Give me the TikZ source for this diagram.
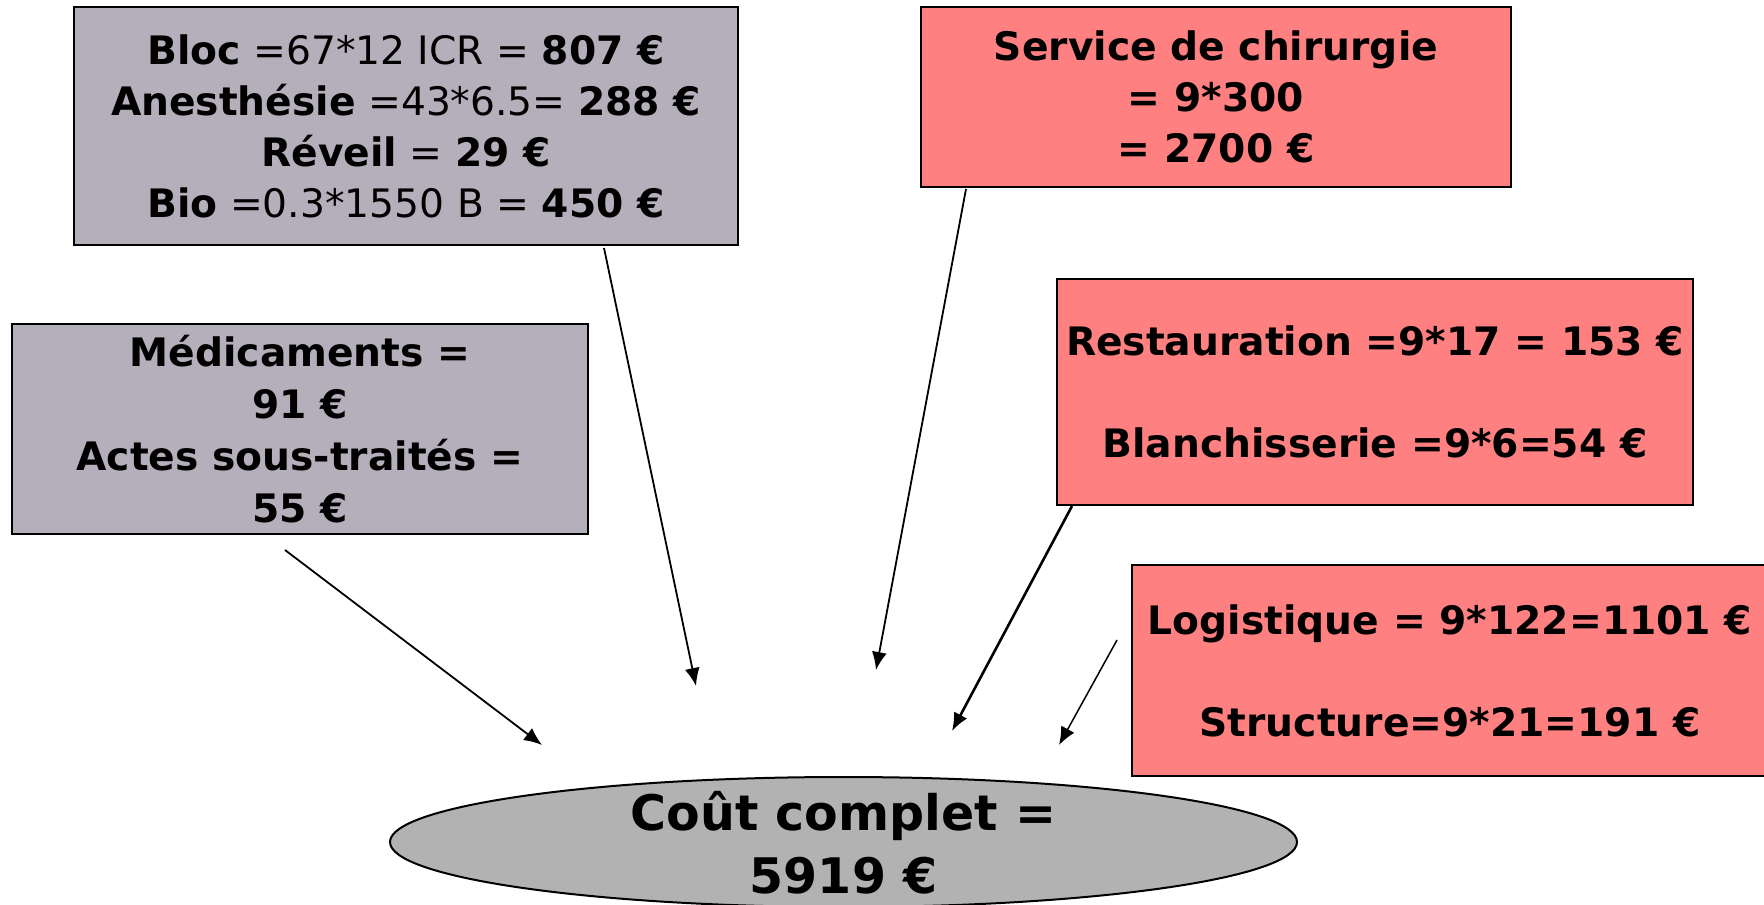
\documentclass[tikz,border=0pt]{standalone}
\usepackage{fontspec}
\setmainfont{DejaVu Sans}
\usetikzlibrary{positioning,arrows.meta,shapes.geometric,calc}
\definecolor{boxgray}{RGB}{180,175,187}
\definecolor{boxred}{RGB}{255,128,128}
\definecolor{ellgray}{RGB}{178,178,178}

\begin{document}
\begin{tikzpicture}[x=0.5pt,y=-0.5pt]
 \tikzset{arrow/.style={-{Latex[length=9pt,width=7.5pt]},line width=0.9pt},
   post/.style={draw=black,line width=1pt,align=center,inner sep=0pt,
     font=\fontsize{19.6}{25.5}\selectfont},
   grey/.style={post,fill=boxgray},
   rouge/.style={post,fill=boxred}}
 \clip (0,0) rectangle (1764,904);

 \node[grey,minimum width=332pt,minimum height=119pt] (bloc) at (406,126)
   {\textbf{Bloc} =67*12 ICR = \textbf{807 €}\\
    \textbf{Anesthésie} =43*6.5= \textbf{288 €}\\
    \textbf{Réveil} = \textbf{29 €}\\
    \textbf{Bio} =0.3*1550 B = \textbf{450 €}};
 \node[grey,font=\fontsize{19.6}{26}\selectfont\bfseries,minimum width=288pt,minimum height=105pt] (medic) at (300,429)
   {Médicaments =\\91 €\\Actes sous-traités =\\55 €};
 \node[rouge,font=\fontsize{19.6}{25.5}\selectfont\bfseries,minimum width=295pt,minimum height=90pt] (chir) at (1216,97)
   {Service de chirurgie\\= 9*300\\= 2700 €};
 \node[rouge,font=\fontsize{19.6}{25.5}\selectfont\bfseries,minimum width=318pt,minimum height=113pt] (resto) at (1375,392)
   {Restauration =9*17 = 153 €\\[25.5pt]Blanchisserie =9*6=54 €};
 \node[rouge,font=\fontsize{19.6}{25.5}\selectfont\bfseries,minimum width=318pt,minimum height=105.5pt] (logis) at (1450,670.5)
   {Logistique = 9*122=1101 €\\[25.5pt]Structure=9*21=191 €};

 \node[ellipse,draw=black,line width=1pt,fill=ellgray,minimum width=453.5pt,minimum height=65pt] (total) at (843.5,842) {};
 \node[align=center,font=\fontsize{24.5}{31.5}\selectfont\bfseries] (totaltxt) at (843.5,843) {Coût complet =\\5919 €};

 % free ends of the arrows, above the total
 \coordinate (tip1) at (542,745);
 \coordinate (tip2) at (696,686);
 \coordinate (tip3) at (876,670);
 \coordinate (tip4) at (952,731);
 \coordinate (tip5) at (1059,745);

 \draw[arrow] ($(medic.south)+(-15,15)$) -- (tip1);
 \draw[arrow] ($(bloc.south)+(198,2)$) -- (tip2);
 \draw[arrow] ($(chir.south)+(-250,1)$) -- (tip3);
 \draw[arrow,line width=1.3pt] ($(resto.south west)+(16,0)$) -- (tip4);
 \draw[arrow,line width=0.75pt] ($(logis.west)+(-14,-30.5)$) -- (tip5);
\end{tikzpicture}
\end{document}
